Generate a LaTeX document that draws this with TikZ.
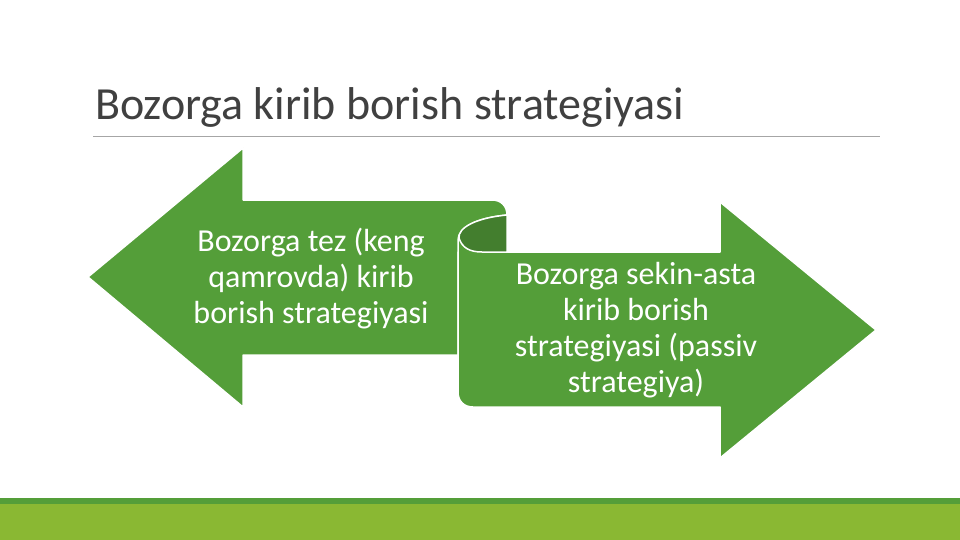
\documentclass[tikz,border=0pt]{standalone}
\usepackage{fontspec}
\setmainfont{Carlito}
\definecolor{mygreen}{HTML}{549E39}
\definecolor{mydark}{HTML}{437E2E}
\definecolor{mylime}{HTML}{8AB833}
\definecolor{mygray}{HTML}{404040}
\tikzset{
  arrowshape/.style={fill=mygreen, draw=white, line width=1.5pt, line join=round},
  arrowtext/.style={text=white, align=center, font=\fontsize{32}{36}\selectfont}
}
\begin{document}
\begin{tikzpicture}[x=1pt, y=-1pt]
    \useasboundingbox (0,0) rectangle (960,540);
    \fill[white] (0,0) rectangle (960,540);

    % Title
    \node[anchor=base west, inner sep=0pt, text=mygray, font=\fontsize{46}{50}\selectfont] (title) at (95,120) {Bozorga kirib borish strategiyasi};
    \draw[gray!70, line width=0.75pt] (93,136) -- (880,136);

    % Left arrow
    \draw[arrowshape] (88,277) -- (243,148) -- (243,200) -- (492,200)
        .. controls (501,200) and (507,206) .. (507,215) -- (507,252) -- (458,252)
        -- (458,355) -- (243,355) -- (243,407) -- cycle;

    % Right arrow
    \draw[arrowshape] (458,392) -- (458,240) .. controls (458,228) and (475,218) .. (507,215)
        -- (507,252) -- (720,252) -- (720,202) -- (876,330) -- (720,458) -- (720,407)
        -- (473,407) .. controls (464,407) and (458,401) .. (458,392) -- cycle;

    % Curl
    \draw[arrowshape, fill=mydark] (507,215) .. controls (475,218) and (458,228) .. (459,238)
        .. controls (462,248) and (470,252) .. (482,252) -- (507,252) -- cycle;

    \node[arrowtext] (lefttext) at (311,279) {Bozorga tez (keng\\qamrovda) kirib\\borish strategiyasi};
    \node[arrowtext] (righttext) at (636,330) {Bozorga sekin-asta\\kirib borish\\strategiyasi (passiv\\strategiya)};

    % Bottom band
    \fill[mygreen] (0,498) rectangle (960,504);
    \fill[mylime] (0,504) rectangle (960,540);
\end{tikzpicture}
\end{document}
